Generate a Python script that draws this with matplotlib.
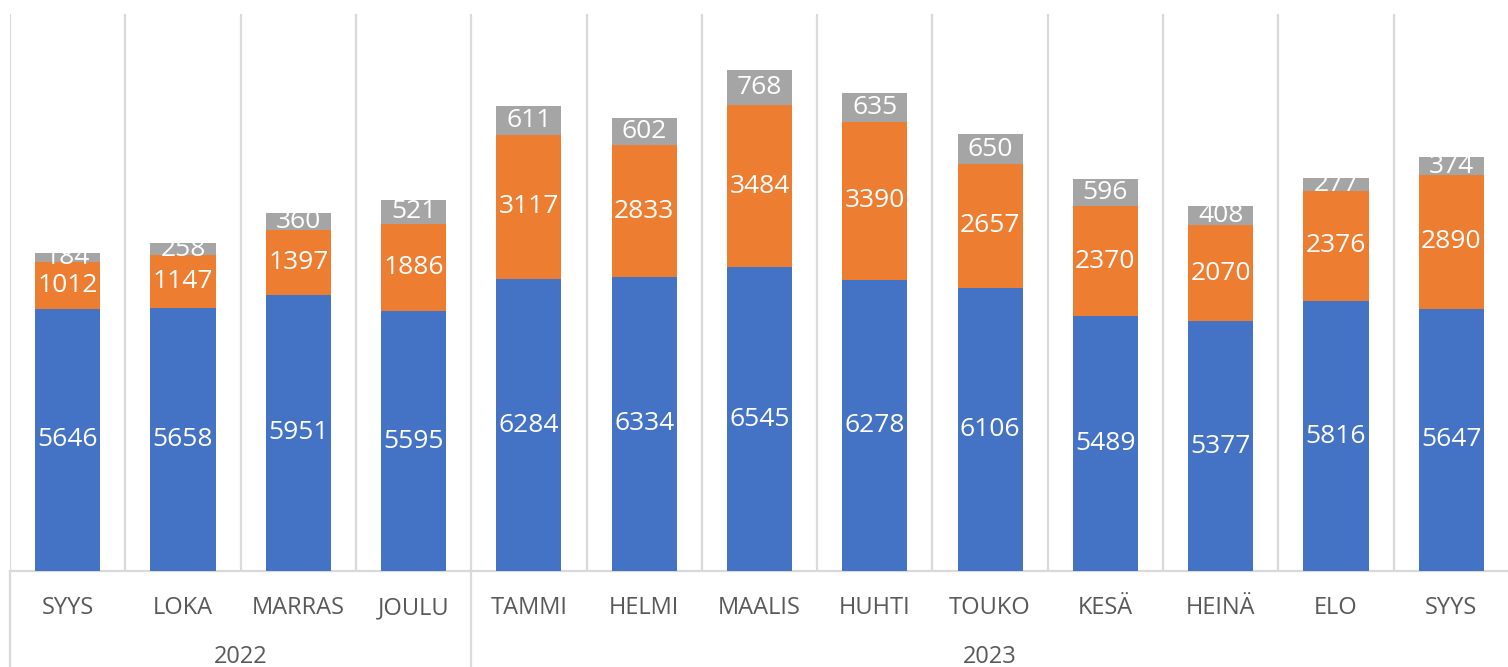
import matplotlib
matplotlib.use("Agg")
import matplotlib.pyplot as plt
from matplotlib.transforms import blended_transform_factory
from matplotlib.lines import Line2D
import numpy as np

plt.rcParams['font.family'] = ['Open Sans', 'DejaVu Sans']

months = ["SYYS", "LOKA", "MARRAS", "JOULU", "TAMMI", "HELMI", "MAALIS",
          "HUHTI", "TOUKO", "KESÄ", "HEINÄ", "ELO", "SYYS"]
years = ["2022", "2023"]
year_sizes = [4, 9]
blue_vals = [5646, 5658, 5951, 5595, 6284, 6334, 6545, 6278, 6106, 5489, 5377, 5816, 5647]
orange_vals = [1012, 1147, 1397, 1886, 3117, 2833, 3484, 3390, 2657, 2370, 2070, 2376, 2890]
gray_vals = [184, 258, 360, 521, 611, 602, 768, 635, 650, 596, 408, 277, 374]

W, H = 1508, 667
fig = plt.figure(figsize=(W / 100, H / 100), dpi=100)
ax = fig.add_axes([10 / W, 96 / H, 1499 / W, 557 / H])

x = np.arange(len(months))
blue = np.array(blue_vals)
orange = np.array(orange_vals)
gray = np.array(gray_vals)
bw = 0.565
grid_c = "#D9D9D9"
txt_c = "#595959"

c1 = ax.bar(x, blue, bw, color="#4472C4", zorder=3)
c2 = ax.bar(x, orange, bw, bottom=blue, color="#ED7D31", zorder=3)
c3 = ax.bar(x, gray, bw, bottom=blue + orange, color="#A5A5A5", zorder=3)
for c in (c1, c2, c3):
    ax.bar_label(c, label_type="center", color="white", fontsize=19, zorder=4)

ax.set_xlim(-0.5, len(months) - 0.5)
ax.set_ylim(0, 12000)
ax.vlines(np.arange(len(months) + 1) - 0.5, 0, 12000, colors=grid_c, lw=1.6, zorder=1)

for s in ("top", "right", "left"):
    ax.spines[s].set_visible(False)
ax.spines["bottom"].set_color(grid_c)
ax.spines["bottom"].set_linewidth(1.6)
ax.set_yticks([])
ax.set_xticks([])

tr = blended_transform_factory(ax.transData, fig.transFigure)
for xi, m in zip(x, months):
    ax.text(xi, (H - 608) / H, m, transform=tr, ha="center", va="center",
            fontsize=17, color=txt_c)

start = 0
bounds = [-0.5]
for yname, n in zip(years, year_sizes):
    center = start + (n - 1) / 2
    ax.text(center, (H - 657) / H, yname, transform=tr, ha="center", va="center",
            fontsize=17, color=txt_c)
    start += n
    bounds.append(start - 0.5)
for b in bounds:
    ln = Line2D([b, b], [0, 96 / H], transform=tr, color=grid_c, lw=1.6, clip_on=False)
    ax.add_line(ln)

fig.savefig("out.png", dpi=100, facecolor="white")
